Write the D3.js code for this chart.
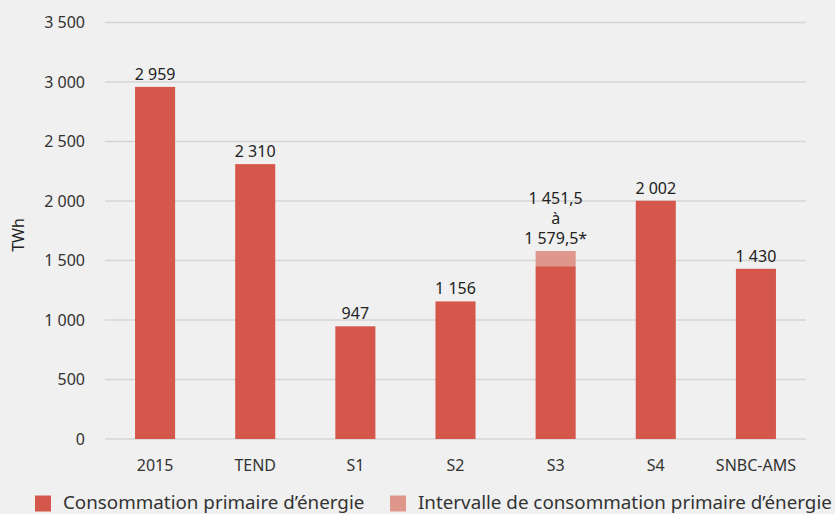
<!DOCTYPE html>
<html><head><meta charset="utf-8">
<script src="https://cdn.jsdelivr.net/npm/d3@7"></script>
<style>
html,body{margin:0;padding:0;background:#eff0ef;}
svg{display:block;font-family:"Noto Sans","Open Sans",sans-serif;}
</style></head>
<body><svg id="c" width="835" height="514"></svg>
<script>
const categories = ["2015","TEND","S1","S2","S3","S4","SNBC-AMS"];
const values = [2959, 2310, 947, 1156, 1451.5, 2002, 1430];
const rangeHigh = [null, null, null, null, 1579.5, null, null];
const valueLabels = [["2 959"],["2 310"],["947"],["1 156"],["1 451,5","à","1 579,5*"],["2 002"],["1 430"]];
const yTicks = [0,500,1000,1500,2000,2500,3000,3500];
const yTickLabels = ["0","500","1 000","1 500","2 000","2 500","3 000","3 500"];
const legendLabels = ["Consommation primaire d’énergie","Intervalle de consommation primaire d’énergie"];
const yTitle = "TWh";

const svg = d3.select("#c");
const colMain = "#d5574b", colLight = "#e0978b";
const x = d3.scaleBand().domain(categories).range([105,806]).paddingInner(0.6).paddingOuter(0.3);
const y = d3.scaleLinear().domain([0,3500]).range([439,22.5]);

// grid
svg.append("g").selectAll("line").data(yTicks).join("line")
  .attr("x1",105).attr("x2",806).attr("y1",d=>y(d)).attr("y2",d=>y(d))
  .attr("stroke","#d5d6d4").attr("stroke-width",1.5);
svg.append("g").selectAll("text").data(yTicks).join("text")
  .attr("x",85).attr("y",d=>y(d)+5.5).attr("text-anchor","end")
  .attr("font-size",16).attr("fill","#333").text((d,i)=>yTickLabels[i]);

svg.append("text").attr("transform","translate(24,235) rotate(-90)")
  .attr("text-anchor","middle").attr("font-size",16).attr("fill","#222").text(yTitle);

// bars
const bw = x.bandwidth();
svg.append("g").selectAll("rect.hi").data(categories.filter((c,i)=>rangeHigh[i]!=null)).join("rect")
  .attr("x",c=>x(c)).attr("width",bw)
  .attr("y",c=>y(rangeHigh[categories.indexOf(c)]))
  .attr("height",c=>y(values[categories.indexOf(c)])-y(rangeHigh[categories.indexOf(c)]))
  .attr("fill",colLight);
svg.append("g").selectAll("rect.main").data(categories).join("rect")
  .attr("x",c=>x(c)).attr("width",bw)
  .attr("y",(c,i)=>y(values[i])).attr("height",(c,i)=>y(0)-y(values[i]))
  .attr("fill",colMain);

// value labels
categories.forEach((c,i)=>{
  const top = rangeHigh[i]!=null ? rangeHigh[i] : values[i];
  const lines = valueLabels[i];
  lines.forEach((t,j)=>{
    svg.append("text").attr("x",x(c)+bw/2)
      .attr("y",y(top)-7-(lines.length-1-j)*20)
      .attr("text-anchor","middle").attr("font-size",16).attr("fill","#222").text(t);
  });
});

// x labels
svg.append("g").selectAll("text").data(categories).join("text")
  .attr("x",c=>x(c)+bw/2).attr("y",471).attr("text-anchor","middle")
  .attr("font-size",16).attr("fill","#333").text(c=>c);

// legend
const lg = [{x:35,c:colMain,t:legendLabels[0]},{x:390,c:colLight,t:legendLabels[1]}];
lg.forEach(l=>{
  svg.append("rect").attr("x",l.x).attr("y",495.5).attr("width",16).attr("height",16).attr("fill",l.c);
  svg.append("text").attr("x",l.x+28).attr("y",509).attr("font-size",18.8).attr("fill","#333").text(l.t);
});
</script></body></html>
